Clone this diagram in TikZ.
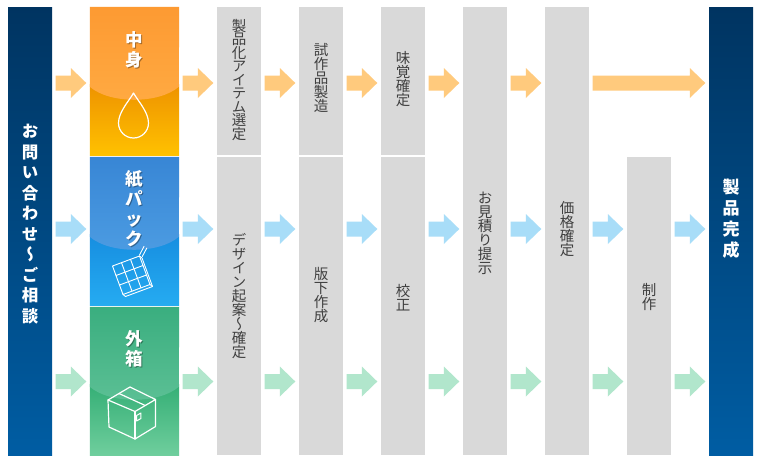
\documentclass[tikz,border=0pt]{standalone}
\usepackage{fontspec}
\usetikzlibrary{calc}
\newfontfamily\jp[RawFeature=+vert]{Noto Sans CJK JP}
\newfontfamily\jph{Noto Sans CJK JP}
\definecolor{navyT}{HTML}{003461}
\definecolor{navyB}{HTML}{005DA3}
\definecolor{grayCol}{HTML}{D9D9D9}
\definecolor{grayTxt}{HTML}{3F3F3F}
\definecolor{arrO}{HTML}{FFCA7D}
\definecolor{arrB}{HTML}{A8DDF8}
\definecolor{arrG}{HTML}{B1E6CC}
\definecolor{oUT}{HTML}{FD9A32}
\definecolor{oUB}{HTML}{FFAA42}
\definecolor{oLT}{HTML}{EE9300}
\definecolor{oLB}{HTML}{FFC100}
\definecolor{bUT}{HTML}{3886D5}
\definecolor{bUB}{HTML}{4C9CE2}
\definecolor{bLT}{HTML}{178EE0}
\definecolor{bLB}{HTML}{25ABF1}
\definecolor{gUT}{HTML}{3AAE7F}
\definecolor{gUB}{HTML}{5CC095}
\definecolor{gLT}{HTML}{35AF76}
\definecolor{gLB}{HTML}{6FCE9D}
\tikzset{
  navycol/.style={inner sep=0pt, minimum width=44pt, minimum height=448pt, top color=navyT, bottom color=navyB, draw=none},
  graycol/.style={inner sep=0pt, minimum width=44pt, fill=grayCol, draw=none},
  catbox/.style={inner sep=0pt, minimum width=89pt, minimum height=148pt, draw=none},
  graytxt/.style={inner sep=0pt, align=center, text=grayTxt, font=\jp\fontsize{14.5}{14}\selectfont},
  whitetxt/.style={inner sep=0pt, align=center, text=white, font=\jp\bfseries\fontsize{16.5}{20.5}\selectfont},
  cattxt/.style={inner sep=0pt, align=center, text=white, font=\jph\bfseries\fontsize{17.5}{20}\selectfont},
  catshadow/.style={inner sep=0pt, align=center, text=black, text opacity=0.35, font=\jph\bfseries\fontsize{17.5}{20}\selectfont},
  icon/.style={draw=white, line width=1.2pt, line join=round, line cap=round},
}
% block arrow from node #1 to node #2 at height #3 with colour #4
\newcommand\barrow[4]{%
  \path (#1.east |- 0,#3) coordinate (#1-#2-#4-s) (#2.west |- 0,#3) coordinate (#1-#2-#4-e);
  \fill[#4] ($(#1-#2-#4-s)+(3.5,-7.5)$) -- ($(#1-#2-#4-e)+(-19,-7.5)$) -- ($(#1-#2-#4-e)+(-19,-15)$)
    -- ($(#1-#2-#4-e)+(-3.5,0)$) -- ($(#1-#2-#4-e)+(-19,15)$) -- ($(#1-#2-#4-e)+(-19,7.5)$)
    -- ($(#1-#2-#4-s)+(3.5,7.5)$) -- cycle;}
% category background: node, upper top/bottom colours, lower top/bottom colours
\newcommand\catbg[5]{%
  \shade[top color=#4, bottom color=#5] ($(#1.north west)+(0,78)$) rectangle (#1.south east);
  \shade[top color=#2, bottom color=#3] (#1.north west) -- ++(0,80) .. controls +(20,17.3) and +(-20,17.3) .. ++(89,0) -- (#1.north east) -- cycle;}
\newcommand\cattext[3]{%
  \node[catshadow] (#1-s) at ($(#2)+(0.9,0.9)$) {#3};
  \node[cattxt] (#1) at (#2) {#3};}
\begin{document}
\begin{tikzpicture}[x=1pt,y=-1pt]
\useasboundingbox (0,0) rectangle (765,466);
\fill[white] (0,0) rectangle (765,466);

% side columns
\node[navycol] (L) at (30,231) {};
\node[navycol] (R) at (731,231) {};
\node[whitetxt] (Lt) at ([yshift=7pt]L.center) {お\\問\\い\\合\\わ\\せ\\～\\ご\\相\\談};
\node[whitetxt, font=\jp\bfseries\fontsize{17}{21}\selectfont] (Rt) at ([yshift=12pt]R.center) {製\\品\\完\\成};

% category boxes
\node[catbox] (O) at (134.5,81) {};
\node[catbox] (B) at (134.5,231) {};
\node[catbox] (G) at (134.5,381) {};
\catbg{O}{oUT}{oUB}{oLT}{oLB}
\catbg{B}{bUT}{bUB}{bLT}{bLB}
\catbg{G}{gUT}{gUB}{gLT}{gLB}
\cattext{Ot}{134.5,49.5}{中\\身}
\cattext{Bt}{134.5,209}{紙\\パ\\ッ\\ク}
\cattext{Gt}{134.5,348.5}{外\\箱}

% drop icon
\draw[icon] (133.5,93) .. controls (129,101) and (118.5,112) .. (118.5,123)
  arc[start angle=180,end angle=0,radius=15] .. controls (148.5,112) and (138,101) .. (133.5,93) -- cycle;

% carton icon
\coordinate (ca) at (112.5,266);
\coordinate (cb) at (139.5,256);
\coordinate (cc) at (150,284.5);
\coordinate (cd) at (123,294.5);
\begin{scope}[draw=white, line width=0.9pt, line join=round, line cap=round]
\draw (ca) -- (cb) -- (cc) -- (cd) -- cycle;
\draw ($(ca)!1/3!(cb)$) -- ($(cd)!1/3!(cc)$);
\draw ($(ca)!2/3!(cb)$) -- ($(cd)!2/3!(cc)$);
\draw ($(ca)!1/3!(cd)$) -- ($(cb)!1/3!(cc)$);
\draw ($(ca)!2/3!(cd)$) -- ($(cb)!2/3!(cc)$);
\draw (cb) -- ($(cb)+(2.5,2)$) -- ($(cc)+(2.5,2)$) -- ($(cd)+(2.5,2)$) -- (cd);
\draw (cc) -- ($(cc)+(2.5,2)$);
\draw ($(cb)+(0,-1)$) -- ++(4.5,-8.5);
\draw ($(cb)+(2.8,0.5)$) -- ++(4.5,-8.5);
\end{scope}

% box icon
\coordinate (bt) at (130,387);
\coordinate (bl) at (108,400);
\coordinate (bf) at (135,411.5);
\coordinate (br) at (155.5,399.5);
\coordinate (blb) at (109,427);
\coordinate (bfb) at (135,439);
\coordinate (brb) at (155.5,426.5);
\draw[icon] (bt) -- (bl) -- (bf) -- (br) -- cycle;
\draw[icon] (bl) -- (blb) -- (bfb) -- (brb) -- (br);
\draw[icon] (bf) -- (bfb);
\draw[icon] ($(bt)!0.5!(bl)$) -- ($(bf)!0.5!(br)$);
\draw[draw=white, line width=1pt, line join=round] (136.6,415.5) -- (140.9,413) -- (140.9,418.5) -- (136.6,421) -- cycle;

% grey process columns
\node[graycol, minimum height=148pt] (c1t) at (239,81) {};
\node[graycol, minimum height=298pt] (c1b) at (239,306) {};
\node[graycol, minimum height=148pt] (c2t) at (321,81) {};
\node[graycol, minimum height=298pt] (c2b) at (321,306) {};
\node[graycol, minimum height=148pt] (c3t) at (403,81) {};
\node[graycol, minimum height=298pt] (c3b) at (403,306) {};
\node[graycol, minimum height=448pt] (c4) at (485,231) {};
\node[graycol, minimum height=448pt] (c5) at (567,231) {};
\node[graycol, minimum height=298pt] (c6) at (649,306) {};

\node[graytxt, font=\jp\fontsize{14.5}{13.5}\selectfont] (t1t) at ([yshift=1pt]c1t.center) {製\\品\\化\\ア\\イ\\テ\\ム\\選\\定};
\node[graytxt] (t1b) at ([yshift=10pt]c1b.center) {デ\\ザ\\イ\\ン\\起\\案\\～\\確\\定};
\node[graytxt] (t2t) at ([yshift=3pt]c2t.center) {試\\作\\品\\製\\造};
\node[graytxt] (t2b) at ([yshift=10.5pt]c2b.center) {版\\下\\作\\成};
\node[graytxt] (t3t) at ([yshift=1.5pt]c3t.center) {味\\覚\\確\\定};
\node[graytxt] (t3b) at ([yshift=8.5pt]c3b.center) {校\\正};
\node[graytxt] (t4) at ([yshift=-2pt]c4.center) {お\\見\\積\\り\\提\\示};
\node[graytxt] (t5) at ([yshift=1.5pt]c5.center) {価\\格\\確\\定};
\node[graytxt] (t6) at ([yshift=9pt]c6.center) {制\\作};

% arrows, top row
\barrow{L}{O}{83}{arrO}
\barrow{O}{c1t}{83}{arrO}
\barrow{c1t}{c2t}{83}{arrO}
\barrow{c2t}{c3t}{83}{arrO}
\barrow{c3t}{c4}{83}{arrO}
\barrow{c4}{c5}{83}{arrO}
\barrow{c5}{R}{83}{arrO}
% middle row
\barrow{L}{B}{229}{arrB}
\barrow{B}{c1b}{229}{arrB}
\barrow{c1b}{c2b}{229}{arrB}
\barrow{c2b}{c3b}{229}{arrB}
\barrow{c3b}{c4}{229}{arrB}
\barrow{c4}{c5}{229}{arrB}
\barrow{c5}{c6}{229}{arrB}
\barrow{c6}{R}{229}{arrB}
% bottom row
\barrow{L}{G}{381.5}{arrG}
\barrow{G}{c1b}{381.5}{arrG}
\barrow{c1b}{c2b}{381.5}{arrG}
\barrow{c2b}{c3b}{381.5}{arrG}
\barrow{c3b}{c4}{381.5}{arrG}
\barrow{c4}{c5}{381.5}{arrG}
\barrow{c5}{c6}{381.5}{arrG}
\barrow{c6}{R}{381.5}{arrG}
\end{tikzpicture}
\end{document}
